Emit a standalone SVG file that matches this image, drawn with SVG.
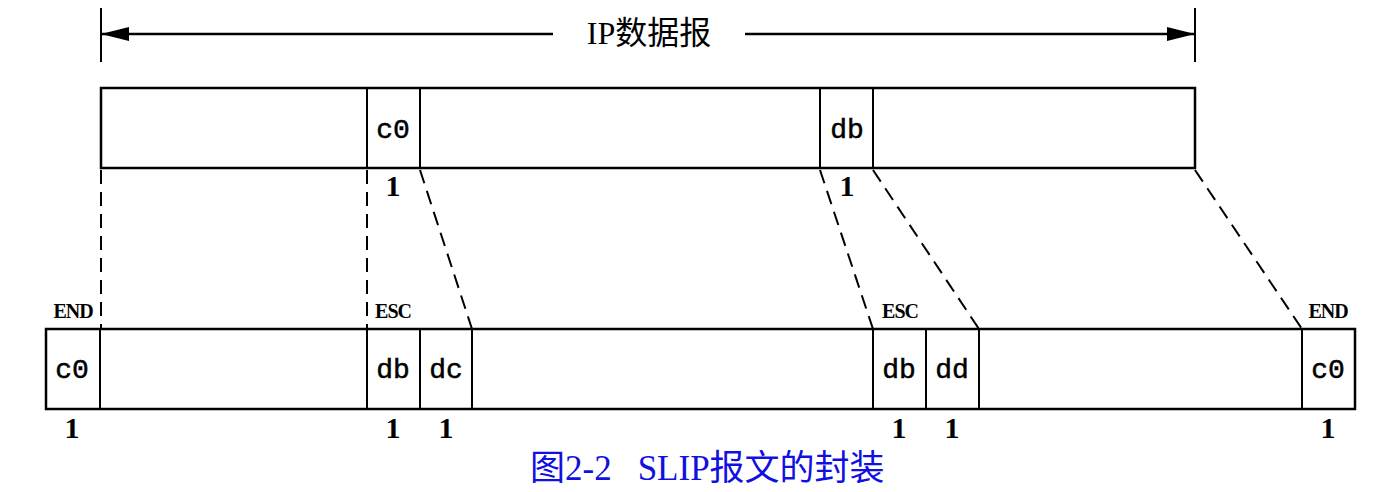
<svg xmlns="http://www.w3.org/2000/svg" width="1380" height="492" viewBox="0 0 1380 492">
<style>
.box{fill:none;stroke:#000;stroke-width:2.5}
.div{stroke:#000;stroke-width:2}
.dash{stroke:#000;stroke-width:2;stroke-dasharray:14 8;fill:none}
.mono{font-family:"Liberation Mono",monospace;font-size:28px;text-anchor:middle;fill:#000;stroke:#000;stroke-width:0.5}
.one{font-family:"Liberation Serif",serif;font-size:30px;font-weight:bold;text-anchor:middle;fill:#000}
.tag{font-family:"Liberation Serif",serif;font-size:20px;font-weight:bold;text-anchor:middle;fill:#000;letter-spacing:-1px}
.title{font-family:"Liberation Serif","Noto Sans CJK SC",serif;font-size:32px;text-anchor:middle;fill:#000}
.cap{font-family:"Liberation Serif","Noto Sans CJK SC",serif;font-size:35px;fill:#1010e0}
</style>
<defs>
<marker id="ah" viewBox="0 0 28 14" refX="28" refY="7" markerWidth="28" markerHeight="14" markerUnits="userSpaceOnUse" orient="auto-start-reverse">
<path d="M0,0 L28,7 L0,14 Z" fill="#000"/>
</marker>
</defs>
<g id="ip-span">
<line class="div" x1="101" y1="8" x2="101" y2="62" stroke-width="2.5"/>
<line class="div" x1="1195" y1="8" x2="1195" y2="62" stroke-width="2.5"/>
<line x1="101" y1="34" x2="553" y2="34" stroke="#000" stroke-width="2.5" marker-start="url(#ah)"/>
<line x1="745" y1="34" x2="1195" y2="34" stroke="#000" stroke-width="2.5" marker-end="url(#ah)"/>
<text class="title" x="649" y="44">IP数据报</text>
</g>
<g id="ip-datagram">
<rect class="box" x="101" y="88" width="1094" height="80"/>
<line class="div" x1="367" y1="88" x2="367" y2="168"/>
<line class="div" x1="420" y1="88" x2="420" y2="168"/>
<line class="div" x1="820" y1="88" x2="820" y2="168"/>
<line class="div" x1="873" y1="88" x2="873" y2="168"/>
<text class="mono" x="393" y="138">c0</text>
<text class="mono" x="847" y="138">db</text>
<text class="one" x="393" y="196">1</text>
<text class="one" x="847" y="196">1</text>
</g>
<g id="slip-frame">
<rect class="box" x="46" y="329" width="1309" height="80"/>
<line class="div" x1="100" y1="329" x2="100" y2="409"/>
<line class="div" x1="367" y1="329" x2="367" y2="409"/>
<line class="div" x1="420" y1="329" x2="420" y2="409"/>
<line class="div" x1="472" y1="329" x2="472" y2="409"/>
<line class="div" x1="873" y1="329" x2="873" y2="409"/>
<line class="div" x1="926" y1="329" x2="926" y2="409"/>
<line class="div" x1="979" y1="329" x2="979" y2="409"/>
<line class="div" x1="1302" y1="329" x2="1302" y2="409"/>
<text class="mono" x="72" y="378">c0</text>
<text class="mono" x="393" y="378">db</text>
<text class="mono" x="446" y="378">dc</text>
<text class="mono" x="899" y="378">db</text>
<text class="mono" x="952" y="378">dd</text>
<text class="mono" x="1328" y="378">c0</text>
<text class="tag" x="73" y="318">END</text>
<text class="tag" x="393" y="318">ESC</text>
<text class="tag" x="900" y="318">ESC</text>
<text class="tag" x="1328" y="318">END</text>
<text class="one" x="72" y="438">1</text>
<text class="one" x="393" y="438">1</text>
<text class="one" x="446" y="438">1</text>
<text class="one" x="899" y="438">1</text>
<text class="one" x="952" y="438">1</text>
<text class="one" x="1328" y="438">1</text>
</g>
<g id="connectors">
<line class="dash" x1="101" y1="170" x2="101" y2="329"/>
<line class="dash" x1="367" y1="170" x2="367" y2="329"/>
<line class="dash" x1="420" y1="170" x2="472" y2="329"/>
<line class="dash" x1="820" y1="170" x2="873" y2="329"/>
<line class="dash" x1="873" y1="170" x2="979" y2="329"/>
<line class="dash" x1="1195" y1="170" x2="1302" y2="329"/>
</g>
<g id="caption">
<text class="cap" x="530" y="480">图2-2<tspan dx="26">SLIP报文的封装</tspan></text>
</g>
</svg>
